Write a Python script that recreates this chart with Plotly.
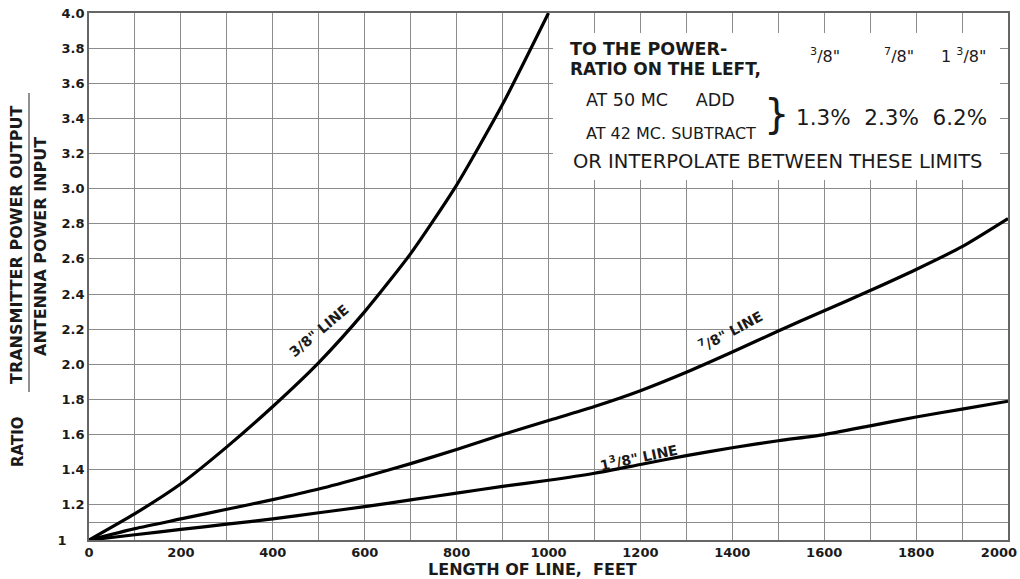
import plotly.graph_objects as go

# ---- data ----
length_ft = [0, 100, 200, 300, 400, 500, 600, 700, 800, 900, 1000,
             1100, 1200, 1300, 1400, 1500, 1600, 1700, 1800, 1900, 2000]

ratio_3_8 = [1.0, 1.15, 1.32, 1.53, 1.76, 2.01, 2.30, 2.63, 3.02, 3.48, 4.0]
ratio_7_8 = [1.0, 1.065, 1.12, 1.175, 1.23, 1.29, 1.36, 1.435, 1.515, 1.60, 1.68,
             1.76, 1.85, 1.955, 2.07, 2.19, 2.305, 2.42, 2.54, 2.67, 2.83]
ratio_1_3_8 = [1.0, 1.03, 1.06, 1.09, 1.12, 1.155, 1.19, 1.228, 1.267, 1.305, 1.34,
               1.38, 1.43, 1.48, 1.525, 1.565, 1.60, 1.65, 1.70, 1.745, 1.79]

x_tick_vals = [0, 200, 400, 600, 800, 1000, 1200, 1400, 1600, 1800, 2000]
x_tick_text = ["0", "200", "400", "600", "800", "1000", "1200", "1400", "1600", "1800",
               "2000\u00a0\u00a0\u00a0\u00a0"]
x_minor_grid = [100, 300, 500, 700, 900, 1100, 1300, 1500, 1700, 1900]

y_tick_vals = [1.0, 1.2, 1.4, 1.6, 1.8, 2.0, 2.2, 2.4, 2.6, 2.8, 3.0, 3.2, 3.4, 3.6, 3.8, 4.0]
y_tick_text = ["1\u00a0\u00a0\u00a0\u00a0", "1.2", "1.4", "1.6", "1.8", "2.0", "2.2", "2.4",
               "2.6", "2.8", "3.0", "3.2", "3.4", "3.6", "3.8", "4.0"]
y_minor_grid = [1.1]

curve_labels = [
    dict(text="3/8\" LINE", x=500, y=2.19, angle=-40),
    dict(text="<sup>7</sup>/8\" LINE", x=1395, y=2.19, angle=-28),
    dict(text="1<sup>3</sup>/8\" LINE", x=1195, y=1.475, angle=-12),
]

# ---- layout geometry ----
W, H = 1020, 579
ML, MR, MT, MB = 89, 12, 13, 39
PW, PH = W - ML - MR, H - MT - MB


def px(xp):
    return (xp - ML) / PW


def py(yp):
    return (H - MB - yp) / PH


FONT = "DejaVu Sans"
INK = "#1a1a1a"
GRID = "#8c8c8c"

fig = go.Figure()

for series, xs in ((ratio_3_8, length_ft[:len(ratio_3_8)]),
                   (ratio_7_8, length_ft),
                   (ratio_1_3_8, length_ft)):
    fig.add_trace(go.Scatter(x=xs, y=series, mode="lines",
                             line=dict(color="black", width=3.2, shape="spline", smoothing=0.6),
                             showlegend=False, hoverinfo="skip"))

# white note box covering the grid
fig.add_shape(type="rect", xref="paper", yref="paper",
              x0=px(553), x1=px(1000), y0=py(180), y1=py(33),
              fillcolor="white", line=dict(width=0), layer="above")

ann = []
for c in curve_labels:
    ann.append(dict(text=c["text"], x=c["x"], y=c["y"], xref="x", yref="y",
                    textangle=c["angle"], showarrow=False,
                    font=dict(family=FONT, size=14, color=INK, weight="bold")))


def note(text, xp, yp, size, bold=False, xanchor="left", angle=0):
    ann.append(dict(text=text, x=px(xp), y=py(yp), xref="paper", yref="paper",
                    xanchor=xanchor, yanchor="middle", showarrow=False, textangle=angle,
                    font=dict(family=FONT, size=size, color=INK,
                              weight="bold" if bold else "normal")))


note("TO THE POWER-", 568, 49, 17.5, bold=True)
note("RATIO ON THE LEFT,", 568, 69, 17, bold=True)
note("<sup>3</sup>/8\"", 825, 56, 16, xanchor="center")
note("<sup>7</sup>/8\"", 899, 56, 16, xanchor="center")
note("1 <sup>3</sup>/8\"", 963, 56, 16, xanchor="center")
note("AT 50 MC     ADD", 584, 100, 17.5)
note("AT 42 MC. SUBTRACT", 584, 133, 16)
note("}", 776, 114, 40, xanchor="center")
note("1.3%  2.3%  6.2%", 794, 117, 21.5)
note("OR INTERPOLATE BETWEEN THESE LIMITS", 571, 161, 19.5)

# y-axis title pieces
note("RATIO", 18, 442, 15, bold=True, xanchor="center", angle=-90)
note("TRANSMITTER POWER OUTPUT", 17, 245, 16, bold=True, xanchor="center", angle=-90)
note("ANTENNA POWER INPUT", 41, 247, 16, bold=True, xanchor="center", angle=-90)
fig.add_shape(type="line", xref="paper", yref="paper",
              x0=px(29), x1=px(29), y0=py(392), y1=py(93),
              line=dict(color="#555", width=1.3))

# x-axis title
note("LENGTH OF LINE,  FEET", 532, 569, 16, bold=True, xanchor="center")

fig.update_layout(
    width=W, height=H,
    margin=dict(l=ML, r=MR, t=MT, b=MB, pad=0),
    paper_bgcolor="white", plot_bgcolor="white",
    annotations=ann,
    xaxis=dict(range=[0, 2000], tickmode="array", tickvals=x_tick_vals, ticktext=x_tick_text,
               showgrid=True, gridcolor=GRID, gridwidth=1.4, zeroline=False,
               showline=True, mirror=True, linecolor="#666", linewidth=1.6, ticks="",
               automargin=False, ticklabeloverflow="allow",
               minor=dict(tickvals=x_minor_grid, showgrid=True, gridcolor=GRID, gridwidth=1.4,
                          ticks=""),
               tickfont=dict(family=FONT, size=13, color=INK, weight="bold")),
    yaxis=dict(range=[1.0, 4.0], tickmode="array", tickvals=y_tick_vals, ticktext=y_tick_text,
               showgrid=True, gridcolor=GRID, gridwidth=1.4, zeroline=False,
               showline=True, mirror=True, linecolor="#666", linewidth=1.6,
               ticks="", ticklabelstandoff=0, automargin=False,
               minor=dict(tickvals=y_minor_grid, showgrid=True, gridcolor=GRID, gridwidth=1.4,
                          ticks=""),
               tickfont=dict(family=FONT, size=13, color=INK, weight="bold")),
)

fig.write_html("out.html")
